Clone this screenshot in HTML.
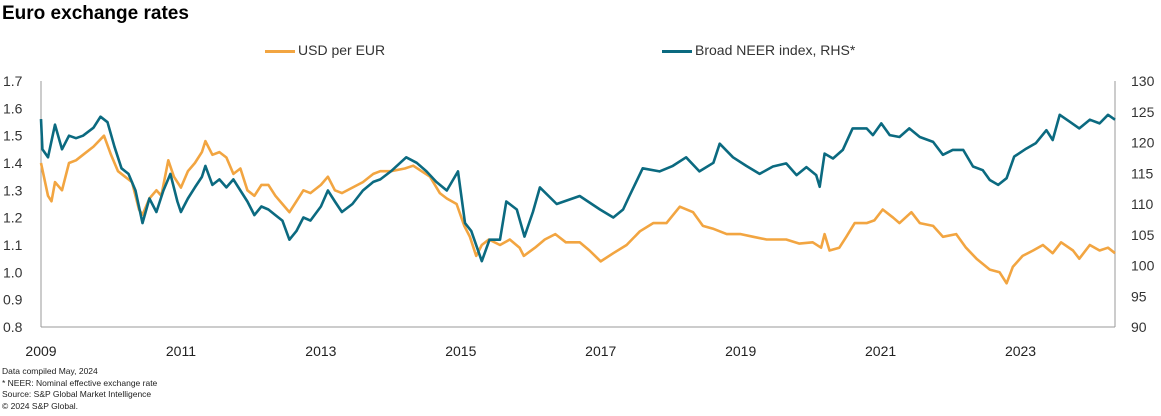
<!DOCTYPE html>
<html><head><meta charset="utf-8"><style>
body{margin:0;background:#fff;font-family:"Liberation Sans",sans-serif;}
#wrap{position:relative;width:1161px;height:416px;overflow:hidden;}
.t{position:absolute;white-space:nowrap;}
</style></head><body>
<div id="wrap">
<div class="t" style="left:2px;top:3px;font-size:19px;font-weight:bold;color:#000;">Euro exchange rates</div>
<div class="t" style="left:265px;top:42px;font-size:14px;color:#333;"><span style="display:inline-block;width:30px;height:3px;background:#F2A541;vertical-align:middle;margin-right:3px;"></span>USD per EUR</div>
<div class="t" style="left:662px;top:42px;font-size:14px;color:#333;"><span style="display:inline-block;width:30px;height:3px;background:#0B6A80;vertical-align:middle;margin-right:3px;"></span>Broad NEER index, RHS*</div>
<svg id="svg" width="1161" height="416" style="position:absolute;left:0;top:0"></svg>
<div class="t" style="left:2px;top:366px;font-size:8.5px;line-height:11.5px;color:#222;">Data compiled May, 2024<br>* NEER: Nominal effective exchange rate<br>Source: S&amp;P Global Market Intelligence<br>© 2024 S&amp;P Global.</div>
</div>
<script>
const yearTicks=[2009,2011,2013,2015,2017,2019,2021,2023];
const leftTicks=[0.8,0.9,1.0,1.1,1.2,1.3,1.4,1.5,1.6,1.7];
const rightTicks=[90,95,100,105,110,115,120,125,130];
const usdDates=[2009.0,2009.1,2009.15,2009.2,2009.3,2009.4,2009.5,2009.6,2009.75,2009.9,2010.0,2010.1,2010.2,2010.3,2010.4,2010.45,2010.55,2010.65,2010.72,2010.82,2010.9,2011.0,2011.1,2011.2,2011.3,2011.35,2011.45,2011.55,2011.65,2011.75,2011.85,2011.95,2012.05,2012.15,2012.25,2012.35,2012.45,2012.55,2012.65,2012.75,2012.85,2013.0,2013.1,2013.2,2013.3,2013.45,2013.6,2013.75,2013.85,2014.0,2014.2,2014.32,2014.56,2014.7,2014.8,2014.94,2015.05,2015.13,2015.22,2015.3,2015.4,2015.56,2015.7,2015.84,2015.9,2016.06,2016.2,2016.35,2016.5,2016.7,2016.84,2017.0,2017.18,2017.37,2017.56,2017.75,2017.94,2018.13,2018.32,2018.46,2018.6,2018.8,2019.0,2019.18,2019.37,2019.65,2019.84,2020.03,2020.15,2020.2,2020.27,2020.41,2020.51,2020.63,2020.8,2020.91,2021.03,2021.18,2021.27,2021.44,2021.56,2021.75,2021.89,2022.08,2022.22,2022.37,2022.56,2022.7,2022.8,2022.89,2023.03,2023.18,2023.32,2023.46,2023.58,2023.75,2023.84,2023.99,2024.13,2024.25,2024.35];
const usdValues=[1.40,1.28,1.26,1.33,1.30,1.40,1.41,1.43,1.46,1.50,1.43,1.37,1.35,1.33,1.23,1.21,1.27,1.30,1.28,1.41,1.35,1.31,1.37,1.40,1.44,1.48,1.43,1.44,1.42,1.36,1.38,1.30,1.28,1.32,1.32,1.28,1.25,1.22,1.26,1.30,1.29,1.32,1.35,1.30,1.29,1.31,1.33,1.36,1.37,1.37,1.38,1.39,1.35,1.29,1.27,1.25,1.17,1.13,1.06,1.10,1.12,1.10,1.12,1.09,1.06,1.09,1.12,1.14,1.11,1.11,1.08,1.04,1.07,1.10,1.15,1.18,1.18,1.24,1.22,1.17,1.16,1.14,1.14,1.13,1.12,1.12,1.105,1.11,1.09,1.14,1.08,1.09,1.13,1.18,1.18,1.19,1.23,1.20,1.18,1.22,1.18,1.17,1.13,1.14,1.09,1.05,1.01,1.00,0.96,1.02,1.06,1.08,1.10,1.07,1.11,1.08,1.05,1.10,1.08,1.09,1.07];
const neerDates=[2009.0,2009.02,2009.1,2009.2,2009.3,2009.4,2009.5,2009.6,2009.75,2009.85,2009.95,2010.05,2010.15,2010.25,2010.35,2010.45,2010.55,2010.65,2010.75,2010.85,2010.95,2011.0,2011.1,2011.2,2011.3,2011.35,2011.45,2011.55,2011.65,2011.75,2011.85,2011.95,2012.05,2012.15,2012.25,2012.35,2012.45,2012.55,2012.65,2012.75,2012.85,2013.0,2013.1,2013.2,2013.3,2013.45,2013.6,2013.75,2013.85,2014.0,2014.22,2014.37,2014.51,2014.65,2014.8,2014.96,2015.06,2015.15,2015.3,2015.41,2015.56,2015.65,2015.8,2015.91,2016.03,2016.13,2016.37,2016.7,2016.99,2017.18,2017.32,2017.41,2017.6,2017.84,2018.03,2018.22,2018.41,2018.61,2018.7,2018.89,2019.08,2019.27,2019.46,2019.65,2019.8,2019.94,2020.08,2020.13,2020.2,2020.32,2020.46,2020.6,2020.8,2020.89,2021.01,2021.13,2021.27,2021.41,2021.56,2021.75,2021.89,2022.03,2022.18,2022.32,2022.46,2022.56,2022.68,2022.8,2022.91,2023.08,2023.22,2023.37,2023.46,2023.56,2023.7,2023.84,2023.99,2024.13,2024.25,2024.35];
const neerValues=[123.8,118.9,117.6,122.9,118.9,121.1,120.7,121.1,122.4,124.2,123.3,119.3,115.8,114.9,112.2,106.9,110.9,108.7,112.2,114.9,110.4,108.7,110.9,112.7,114.4,116.2,113.1,114.0,112.7,114.0,112.2,110.4,108.2,109.6,109.1,108.2,107.3,104.2,105.6,107.8,107.3,109.6,112.2,110.4,108.7,110.0,112.2,113.6,114.0,115.3,117.6,116.7,115.3,113.6,112.2,115.3,106.9,105.6,100.7,104.2,104.2,110.4,109.1,104.7,108.7,112.7,110.0,111.3,109.1,107.8,109.1,111.3,115.8,115.3,116.2,117.6,115.3,116.7,119.8,117.6,116.2,114.9,116.1,116.6,114.7,116.0,114.7,112.8,118.2,117.4,118.8,122.3,122.3,121.2,123.1,121.2,120.9,122.3,120.9,120.1,118.0,118.8,118.8,116.1,115.5,113.9,113.1,114.2,117.7,119.0,119.9,122.0,120.4,124.5,123.4,122.3,123.7,123.1,124.5,123.7];

const X0=41,X1=1115,Y0=327,Y1=81,T0=2009,T1=2024.35;
const xs=t=>X0+(t-T0)/(T1-T0)*(X1-X0);
const yl=v=>Y0-(v-0.8)/0.9*(Y0-Y1);
const yr=v=>Y0-(v-90)/40*(Y0-Y1);
const svg=document.getElementById('svg');
const NS='http://www.w3.org/2000/svg';
function mk(tag,attrs){const e=document.createElementNS(NS,tag);for(const k in attrs)e.setAttribute(k,attrs[k]);svg.appendChild(e);return e;}
let e;
e=mk('line',{x1:X0,y1:Y1,x2:X0,y2:Y0,stroke:'#999','stroke-width':1});


e=mk('line',{x1:X1,y1:Y1,x2:X1,y2:Y0,stroke:'#999','stroke-width':1});


e=mk('line',{x1:X0,y1:Y0,x2:X1,y2:Y0,stroke:'#999','stroke-width':1});


leftTicks.forEach(v=>{const t=mk('text',{x:3,y:yl(v)+5,'font-size':14,fill:'#333','font-family':'Liberation Sans'});t.textContent=v.toFixed(1);

});
rightTicks.forEach(v=>{const t=mk('text',{x:1131,y:yr(v)+5,'font-size':14,fill:'#333','font-family':'Liberation Sans'});t.textContent=v;

});
yearTicks.forEach(v=>{const t=mk('text',{x:xs(v),y:356,'font-size':14,fill:'#222','text-anchor':'middle','font-family':'Liberation Sans'});t.textContent=v;

});
function path(d,v,ys){return d.map((t,i)=>(i?'L':'M')+xs(t).toFixed(1)+','+ys(v[i]).toFixed(1)).join('');}
e=mk('path',{d:path(usdDates,usdValues,yl),fill:'none',stroke:'#F2A541','stroke-width':2.6,'stroke-linejoin':'round'});


e=mk('path',{d:path(neerDates,neerValues,yr),fill:'none',stroke:'#0B6A80','stroke-width':2.6,'stroke-linejoin':'round'});


</script>
</body></html>
